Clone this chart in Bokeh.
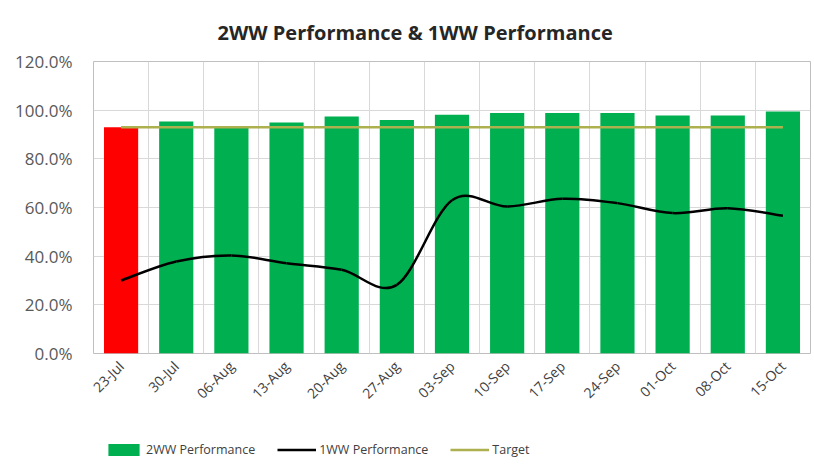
from math import pi
from bokeh.plotting import figure
from bokeh.layouts import column
from bokeh.models import (FixedTicker, NumeralTickFormatter, Legend, LegendItem,
                          Range1d, ColumnDataSource)
from bokeh.embed import file_html
from bokeh.resources import INLINE

weeks = ["23-Jul", "30-Jul", "06-Aug", "13-Aug", "20-Aug", "27-Aug", "03-Sep",
         "10-Sep", "17-Sep", "24-Sep", "01-Oct", "08-Oct", "15-Oct"]
perf_2ww = [0.930, 0.953, 0.934, 0.949, 0.974, 0.960, 0.981, 0.988, 0.988,
            0.988, 0.978, 0.978, 0.995]
perf_1ww = [0.300, 0.378, 0.403, 0.371, 0.344, 0.282, 0.630, 0.604, 0.636,
            0.618, 0.577, 0.597, 0.566]
bar_colors = ["#FF0000", "#00B050", "#00B050", "#00B050", "#00B050", "#00B050",
              "#00B050", "#00B050", "#00B050", "#00B050", "#00B050", "#00B050",
              "#00B050"]
target_value = 0.93
y_ticks = [0.0, 0.2, 0.4, 0.6, 0.8, 1.0, 1.2]

FONT = "Open Sans"
GREEN = "#00B050"
TARGET_COLOR = "#ADB04E"
n = len(weeks)
xs = [i + 0.5 for i in range(n)]

p = figure(frame_width=717, frame_height=292, x_range=Range1d(0, n),
           y_range=Range1d(0, 1.2), output_backend="svg", toolbar_location=None,
           title="2WW Performance & 1WW Performance")
p.min_border_left = 93
p.min_border_right = 4
p.min_border_top = 60
p.min_border_bottom = 58

p.title.align = "left"
p.title.offset = 124
p.title.text_font = FONT
p.title.text_font_size = "20px"
p.title.text_font_style = "bold"
p.title.text_color = "#262626"
p.title.standoff = 32

src = ColumnDataSource(dict(x=xs, top=perf_2ww, color=bar_colors))
p.vbar(x="x", top="top", width=0.62, fill_color="color", line_color=None, source=src)

# smooth (Excel-like) line through the 1WW points
x0, y0, x1, y1, cx0, cy0, cx1, cy1 = [], [], [], [], [], [], [], []
for i in range(n - 1):
    a = i - 1 if i > 0 else i
    d = i + 2 if i + 2 < n else i + 1
    x0.append(xs[i]); y0.append(perf_1ww[i])
    x1.append(xs[i + 1]); y1.append(perf_1ww[i + 1])
    cx0.append(xs[i] + (xs[i + 1] - xs[a]) / 6)
    cy0.append(perf_1ww[i] + (perf_1ww[i + 1] - perf_1ww[a]) / 6)
    cx1.append(xs[i + 1] - (xs[d] - xs[i]) / 6)
    cy1.append(perf_1ww[i + 1] - (perf_1ww[d] - perf_1ww[i]) / 6)
p.bezier(x0=x0, y0=y0, x1=x1, y1=y1, cx0=cx0, cy0=cy0, cx1=cx1, cy1=cy1,
         line_color="black", line_width=2.5)

p.line(x=[xs[0], xs[-1]], y=[target_value, target_value],
       line_color=TARGET_COLOR, line_width=2.5)

# axes
p.yaxis.ticker = FixedTicker(ticks=y_ticks)
p.yaxis.formatter = NumeralTickFormatter(format="0.0%")
p.yaxis.major_label_text_font = FONT
p.yaxis.major_label_text_font_size = "17px"
p.yaxis.major_label_text_color = "#595959"
p.yaxis.axis_line_color = None
p.yaxis.major_tick_line_color = None
p.yaxis.minor_tick_line_color = None
p.yaxis.major_label_standoff = 15

p.xaxis.ticker = FixedTicker(ticks=xs)
p.xaxis.major_label_overrides = {x: w for x, w in zip(xs, weeks)}
p.xaxis.major_label_orientation = pi / 4
p.xaxis.major_label_text_font = FONT
p.xaxis.major_label_text_font_size = "14px"
p.xaxis.major_label_text_color = "#404040"
p.xaxis.axis_line_color = None
p.xaxis.major_tick_line_color = None
p.xaxis.minor_tick_line_color = None
p.xaxis.major_label_standoff = 4

p.xgrid.ticker = FixedTicker(ticks=list(range(n + 1)))
p.xgrid.grid_line_color = "#D9D9D9"
p.ygrid.grid_line_color = "#D9D9D9"
p.outline_line_color = "#BFBFBF"
p.background_fill_color = "white"
p.border_fill_color = "white"

# legend strip below the chart; its proxy renderers hold only NaN (nothing drawn)
leg = figure(width=814, height=54, x_range=Range1d(0, 1), y_range=Range1d(0, 1),
             output_backend="svg", toolbar_location=None,
             x_axis_location=None, y_axis_location=None)
leg.min_border = 0
leg.grid.visible = False
leg.outline_line_color = None
nan = float("nan")
r_bar = leg.vbar(x=[nan], top=[nan], width=0.5, fill_color=GREEN, line_color=None)
r_line = leg.line(x=[nan, nan], y=[nan, nan], line_color="black", line_width=2.5)
r_tgt = leg.line(x=[nan, nan], y=[nan, nan], line_color=TARGET_COLOR, line_width=2.5)

legend = Legend(items=[
    LegendItem(label="2WW Performance", renderers=[r_bar]),
    LegendItem(label="1WW Performance", renderers=[r_line]),
    LegendItem(label="Target", renderers=[r_tgt]),
], orientation="horizontal", location=(11, 8))
legend.label_text_font = FONT
legend.label_text_font_size = "12.5px"
legend.label_text_color = "#404040"
legend.glyph_width = 39
legend.glyph_height = 15
legend.spacing = 22
legend.label_standoff = 3
legend.border_line_color = None
legend.background_fill_alpha = 0
legend.margin = 0
legend.padding = 0
leg.add_layout(legend)

layout = column(p, leg, spacing=0)
open("out.html", "w").write(file_html(layout, INLINE))
